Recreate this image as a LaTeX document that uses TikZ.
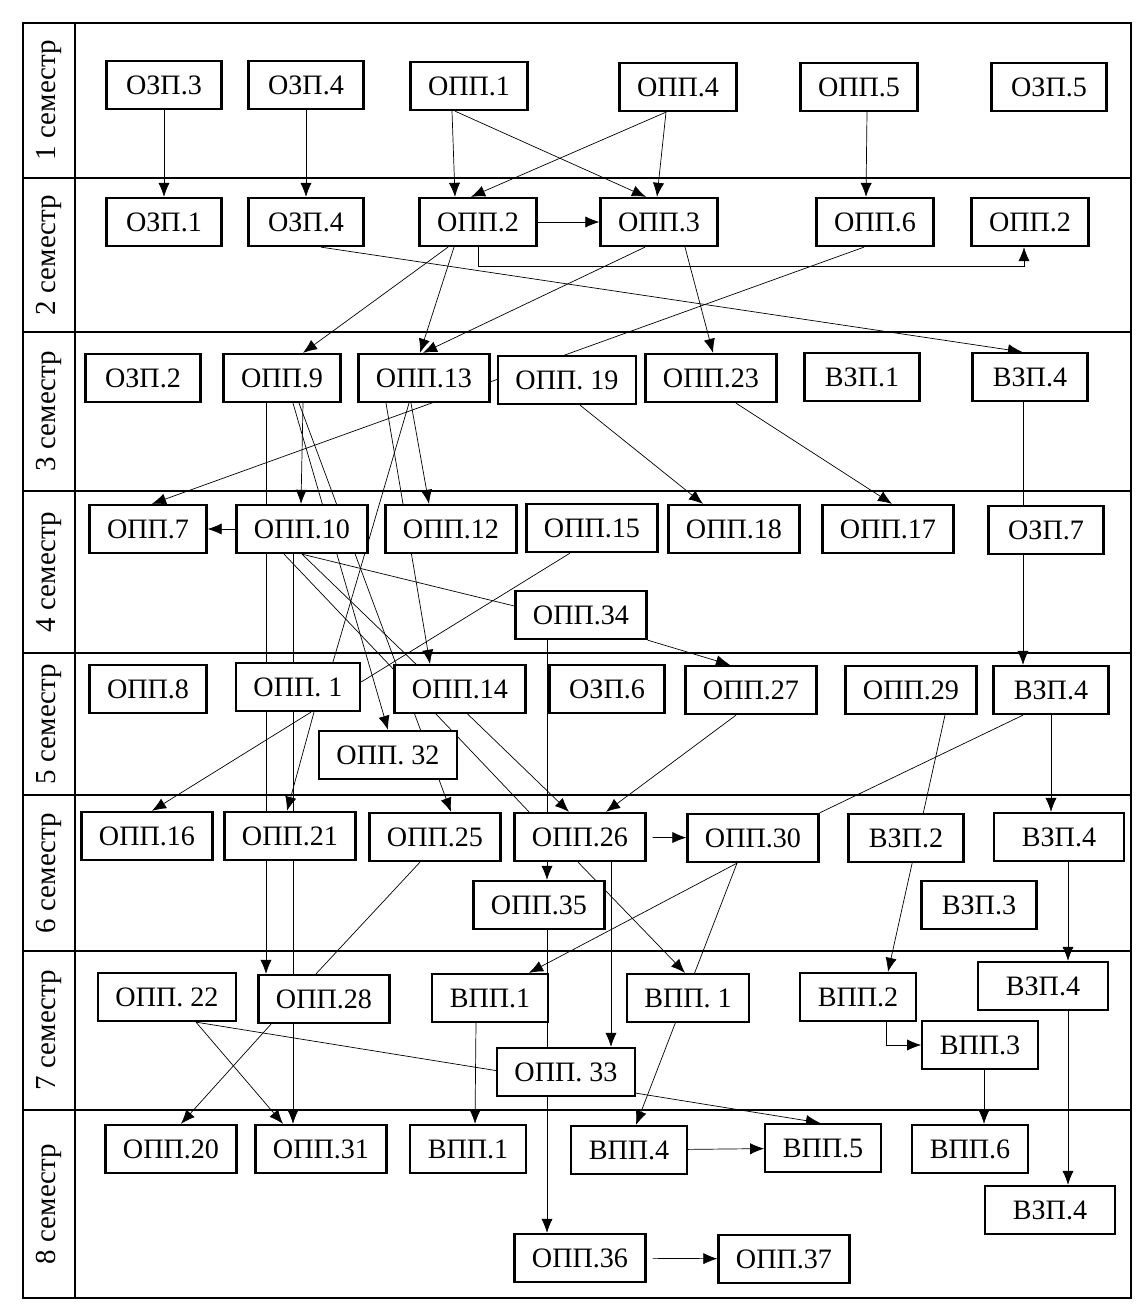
\documentclass[tikz,border=0pt]{standalone}
\usepackage{fontspec}
\setmainfont{Liberation Serif}
\usetikzlibrary{arrows.meta,calc,backgrounds}

\begin{document}
\begin{tikzpicture}[x=0.02cm, y=-0.02cm, >={Latex[length=8pt,width=6.4pt]}, line width=1pt]
	\tikzstyle{box} = [rectangle, draw, fill=white, line width=1.3pt, inner xsep=0.35cm, minimum width=2.3cm, minimum height=0.96cm, font=\fontsize{16}{19}\selectfont]
	\tikzstyle{wide} = [minimum width=2.6cm]
	\tikzstyle{sem} = [rotate=90, font=\fontsize{16.5}{19}\selectfont]
	\useasboundingbox (0,0) rectangle (1141,1309);
	\node[sem] (s1) at (49,100)  {1 семестр};
	\node[sem] (s2) at (49,255)  {2 семестр};
	\node[sem] (s3) at (49,411)  {3 семестр};
	\node[sem] (s4) at (49,572)  {4 семестр};
	\node[sem] (s5) at (49,724)  {5 семестр};
	\node[sem] (s6) at (49,873)  {6 семестр};
	\node[sem] (s7) at (49,1030) {7 семестр};
	\node[sem] (s8) at (49,1204) {8 семестр};
	\node[box] (ozp3)  at (164,85)   {ОЗП.3};
	\node[box] (ozp4)  at (306,85)   {ОЗП.4};
	\node[box] (opp1)  at (469,86)   {ОПП.1};
	\node[box] (opp4)  at (678,87)   {ОПП.4};
	\node[box] (opp5)  at (859,87)   {ОПП.5};
	\node[box] (ozp5)  at (1049,87)  {ОЗП.5};
	\node[box] (ozp1)  at (164,222)  {ОЗП.1};
	\node[box] (ozp4b) at (306,222)  {ОЗП.4};
	\node[box] (opp2)  at (478,222)  {ОПП.2};
	\node[box] (opp3)  at (659,222)  {ОПП.3};
	\node[box] (opp6)  at (875,222)  {ОПП.6};
	\node[box] (opp2b) at (1030,222) {ОПП.2};
	\node[box] (ozp2)  at (143,378)  {ОЗП.2};
	\node[box] (opp9)  at (282,378)  {ОПП.9};
	\node[box] (opp13) at (424,378)  {ОПП.13};
	\node[box] (opp19) at (567,380)  {ОПП. 19};
	\node[box] (opp23) at (711,378)  {ОПП.23};
	\node[box] (vzp1)  at (862,377)  {ВЗП.1};
	\node[box] (vzp4a) at (1030,377) {ВЗП.4};
	\node[box] (opp7)  at (148,529)  {ОПП.7};
	\node[box] (opp10) at (302,529)  {ОПП.10};
	\node[box] (opp12) at (451,529)  {ОПП.12};
	\node[box] (opp15) at (592,528)  {ОПП.15};
	\node[box] (opp18) at (734,529)  {ОПП.18};
	\node[box] (opp17) at (888,529)  {ОПП.17};
	\node[box] (ozp7)  at (1046,530) {ОЗП.7};
	\node[box] (opp34) at (581,615)  {ОПП.34};
	\node[box] (opp8)  at (148,689)  {ОПП.8};
	\node[box] (opp1b) at (298,687)  {ОПП. 1};
	\node[box] (opp14) at (460,689)  {ОПП.14};
	\node[box] (opp32) at (388,755)  {ОПП. 32};
	\node[box] (ozp6)  at (607,689)  {ОЗП.6};
	\node[box] (opp27) at (751,690)  {ОПП.27};
	\node[box] (opp29) at (911,690)  {ОПП.29};
	\node[box] (vzp4b) at (1051,690) {ВЗП.4};
	\node[box] (opp16) at (147,836)  {ОПП.16};
	\node[box] (opp21) at (290,836)  {ОПП.21};
	\node[box] (opp25) at (435,837)  {ОПП.25};
	\node[box] (opp26) at (580,837)  {ОПП.26};
	\node[box] (opp30) at (753,838)  {ОПП.30};
	\node[box] (opp35) at (539,905)  {ОПП.35};
	\node[box] (vzp2)  at (906,838)  {ВЗП.2};
	\node[box, wide] (vzp4c) at (1059,837) {ВЗП.4};
	\node[box] (vzp3)  at (979,905)  {ВЗП.3};
	\node[box] (opp22) at (167,997)  {ОПП. 22};
	\node[box] (opp28) at (324,999)  {ОПП.28};
	\node[box] (vpp1a) at (490,998)  {ВПП.1};
	\node[box] (vpp1b) at (688,998)  {ВПП. 1};
	\node[box] (opp33) at (566,1072) {ОПП. 33};
	\node[box] (vpp2)  at (858,997)  {ВПП.2};
	\node[box] (vpp3)  at (980,1045) {ВПП.3};
	\node[box, wide] (vzp4d) at (1043,986) {ВЗП.4};
	\node[box] (opp20) at (171,1149) {ОПП.20};
	\node[box] (opp31) at (321,1149) {ОПП.31};
	\node[box] (vpp1c) at (468,1149) {ВПП.1};
	\node[box] (vpp4)  at (629,1150) {ВПП.4};
	\node[box] (vpp5)  at (823,1148) {ВПП.5};
	\node[box] (vpp6)  at (970,1149) {ВПП.6};
	\node[box, wide] (vzp4e) at (1050,1210) {ВЗП.4};
	\node[box] (opp36) at (580,1258) {ОПП.36};
	\node[box] (opp37) at (784,1259) {ОПП.37};
	\begin{scope}[on background layer]
	\draw [line width=0.7pt] (23,23) rectangle (1131,1298);
	\draw [line width=0.7pt] (75,23) -- (75,1298);
	\draw [line width=0.7pt] (23,178) -- (1131,178);
	\draw [line width=0.7pt] (23,332) -- (1131,332);
	\draw [line width=0.7pt] (23,491) -- (1131,491);
	\draw [line width=0.7pt] (23,653) -- (1131,653);
	\draw [line width=0.7pt] (23,795) -- (1131,795);
	\draw [line width=0.7pt] (23,951) -- (1131,951);
	\draw [line width=0.7pt] (23,1110) -- (1131,1110);
	\draw [->] (ozp3) -- (ozp1);
	\draw [->] (ozp4) -- (ozp4b);
	\draw [->] ($(opp1.south)+(-17,0)$) -- ($(opp2.north)+(-23,0)$);
	\draw [->] ($(opp1.south)+(-14,0)$) -- ($(opp3.north)+(-13,0)$);
	\draw [->] ($(opp4.south)+(-12,0)$) -- ($(opp2.north)+(-7,0)$);
	\draw [->] ($(opp4.south)+(-12,0)$) -- ($(opp3.north)+(-2,0)$);
	\draw [->] ($(opp5.south)+(8,0)$) -- ($(opp6.north)+(-9,0)$);
	\draw [->] (opp2) -- (opp3);
	\draw [->] (opp2.south) -- ++(0,19) -| ($(opp2b.south)+(-6,0)$);
	\draw [->] ($(ozp4b.south)+(15,0)$) -- ($(vzp4a.north)+(-8,0)$);
	\draw [->] ($(opp2.south)+(-30,0)$) -- ($(opp9.north)+(21,0)$);
	\draw [->] ($(opp2.south)+(-24,0)$) -- ($(opp13.north)+(-4,0)$);
	\draw [->] ($(opp3.south)+(-14,0)$) -- ($(opp13.north)+(-1,0)$);
	\draw [->] ($(opp3.south)+(26,0)$) -- ($(opp23.north)+(2,0)$);
	\draw [->] ($(opp6.south)+(-11,0)$) -- ($(opp7.north)+(4,0)$);
	\draw [->] ($(opp9.south)+(21,0)$) -- ($(opp10.north)+(-1,0)$);
	\draw [->] ($(opp9.south)+(-16,0)$) -- ($(opp28.north)+(-58,0)$);
	\draw [->] ($(opp9.south)+(11,0)$) -- (opp32.north);
	\draw [->] ($(opp9.south)+(17,0)$) -- ($(opp25.north)+(16,0)$);
	\draw [->] ($(opp13.south)+(-13,0)$) -- ($(opp12.north)+(-22,0)$);
	\draw [->] ($(opp13.south)+(-38,0)$) -- ($(opp14.north)+(-30,0)$);
	\draw      ($(opp13.south)+(-15,0)$) -- ($(opp1b.north)+(35,0)$);
	\draw [->] ($(opp19.south)+(13,0)$) -- ($(opp18.north)+(-31,0)$);
	\draw [->] ($(opp23.south)+(25,0)$) -- ($(opp17.north)+(4,0)$);
	\draw [->] ($(vzp4a.south)+(-7,0)$) -- ($(vzp4b.north)+(-28,0)$);
	\draw [->] (opp10) -- (opp7);
	\draw [->] ($(opp10.south)+(-9,0)$) -- ($(opp31.north)+(-28,0)$);
	\draw      ($(opp10.south)+(-18,0)$) -- ($(opp26.north)+(-51,0)$);
	\draw [->] (opp10.south) -- ($(opp26.north)+(-11,0)$);
	\draw      (opp10.south) -- ($(opp34.west)+(0,-9)$);
	\draw      ($(opp15.south)+(-22,0)$) -- ($(opp1b.east)+(0,-5)$);
	\draw [->] ($(opp34.south)+(-34,0)$) -- ($(opp35.north)+(8,0)$);
	\draw [->] (opp34.south east) -- ($(opp27.north)+(-21,0)$);
	\draw [->] ($(opp1b.south)+(13,0)$) -- ($(opp16.north)+(5,0)$);
	\draw [->] ($(opp1b.south)+(16,0)$) -- ($(opp21.north)+(-3,0)$);
	\draw [->] ($(opp27.south)+(-15,0)$) -- ($(opp26.north)+(26,0)$);
	\draw      ($(vzp4b.south)+(-28,0)$) -- (opp30.north east);
	\draw [->] ($(opp29.south)+(34,0)$) -- ($(vpp2.north)+(30,0)$);
	\draw [->] (vzp4b.south) -- ($(vzp4c.north)+(-8,0)$);
	\draw [->, shorten <=3.4pt] (opp26) -- (opp30);
	\draw [->] ($(opp26.south)+(31,0)$) -- ($(opp33.north)+(45,0)$);
	\draw [->] ($(opp26.south)+(-2,0)$) -- ($(vpp1b.north)+(-3,0)$);
	\draw [->] ($(opp30.south)+(-16,0)$) -- ($(vpp1a.north)+(39,0)$);
	\draw [->] ($(opp30.south)+(-16,0)$) -- ($(vpp4.north)+(7,0)$);
	\draw [->] ($(opp35.south)+(8,0)$) -- ($(opp36.north)+(-33,0)$);
	\draw      ($(opp25.south)+(-15,0)$) -- ($(opp28.north)+(-8,0)$);
	\draw [->] ($(vzp4c.south)+(9,0)$) -- ($(vzp4d.north)+(25,0)$);
	\draw [->] ($(opp28.south)+(-53,0)$) -- ($(opp20.north)+(10,0)$);
	\draw [->] ($(opp22.south)+(29,0)$) -- ($(opp31.north)+(-38,0)$);
	\draw [->] ($(opp22.south)+(29,0)$) -- ($(vpp5.north)+(-3,0)$);
	\draw [->] ($(vpp1a.south)+(-14,0)$) -- ($(vpp1c.north)+(7,0)$);
	\draw [->] ($(vpp2.south)+(28,0)$) |- (vpp3);
	\draw [->] ($(vpp3.south)+(4,0)$) -- ($(vpp6.north)+(14,0)$);
	\draw [->] ($(vzp4d.south)+(25,0)$) -- ($(vzp4e.north)+(18,0)$);
	\draw [->] (vpp4) -- (vpp5);
	\draw [->, shorten <=3.4pt] (opp36) -- (opp37);
	\end{scope}
\end{tikzpicture}
\end{document}
